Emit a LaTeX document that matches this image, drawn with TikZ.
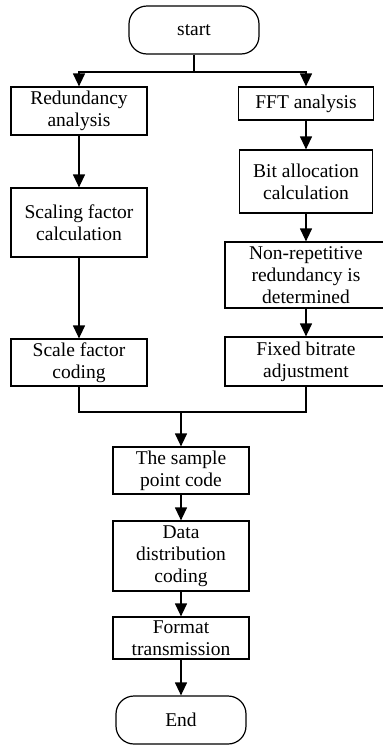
\documentclass[tikz,border=0pt]{standalone}
\usepackage{fontspec}
\setmainfont{Liberation Serif}
\usepackage{tikz}
\usetikzlibrary{arrows.meta, positioning}
\tikzstyle{startstop} = [rectangle, rounded corners=18pt, minimum width=130pt, minimum height=48pt, inner sep=0pt, text centered, draw=black, line width=1.2pt]
\tikzstyle{process}   = [rectangle, minimum width=136pt, inner sep=0pt, text centered, draw=black, line width=1.2pt]
\tikzstyle{arrow}     = [line width=1.2pt,-{Triangle[width=12pt,length=13pt]}]
\tikzset{every node/.style={align=center, font=\fontsize{19.5}{22}\selectfont}}

\begin{document}
\begin{tikzpicture}[x=1pt, y=1pt]
    \useasboundingbox (0,0) rectangle (383,-745);

    \node (start) [startstop] at (194,-30) {start};

    % left branch
    \node (red)  [process, minimum height=48pt] at (79,-111) {Redundancy\\analysis};
    \node (scal) [process, minimum height=69pt, node distance=111.5pt, below of=red] {Scaling factor\\calculation};
    \node (sfc)  [process, minimum height=47pt, node distance=140pt, below of=scal] {Scale factor\\coding};

    % right branch
    \node (fft)  [process, minimum height=33pt, minimum width=135pt] at (306,-103.5) {FFT analysis};
    \node (bit)  [process, minimum height=63pt, minimum width=133pt, node distance=78pt, below of=fft] {Bit allocation\\calculation};
    \node (non)  [process, minimum height=66pt, minimum width=162pt, node distance=93.5pt, below of=bit] {Non-repetitive\\redundancy is\\determined};
    \node (fix)  [process, minimum height=49pt, minimum width=162pt, node distance=86.5pt, below of=non] {Fixed bitrate\\adjustment};

    % common part
    \node (samp) [process, minimum height=47pt] at (181,-470.5) {The sample\\point code};
    \node (data) [process, minimum height=70pt, node distance=85.5pt, below of=samp] {Data\\distribution\\coding};
    \node (fmt)  [process, minimum height=42pt, node distance=82pt, below of=data] {Format\\transmission};
    \node (end)  [startstop, node distance=82pt, below of=fmt] {End};

    \coordinate (split) at (194,-72);
    \coordinate (join)  at (181,-412);

    \draw [line width=1.2pt] (start.south) -- (split);
    \draw [arrow] (split) -| (red.north);
    \draw [arrow] (split) -| (fft.north);
    \draw [arrow] (red) -- (scal);
    \draw [arrow] (scal) -- (sfc);
    \draw [arrow] (fft) -- (bit);
    \draw [arrow] (bit) -- (non);
    \draw [arrow] (non) -- (fix);
    \draw [line width=1.2pt] (sfc.south) |- (join);
    \draw [line width=1.2pt] (fix.south) |- (join);
    \draw [arrow] (join) -- (samp.north);
    \draw [arrow] (samp) -- (data);
    \draw [arrow] (data) -- (fmt);
    \draw [arrow] (fmt) -- (end);
\end{tikzpicture}
\end{document}
